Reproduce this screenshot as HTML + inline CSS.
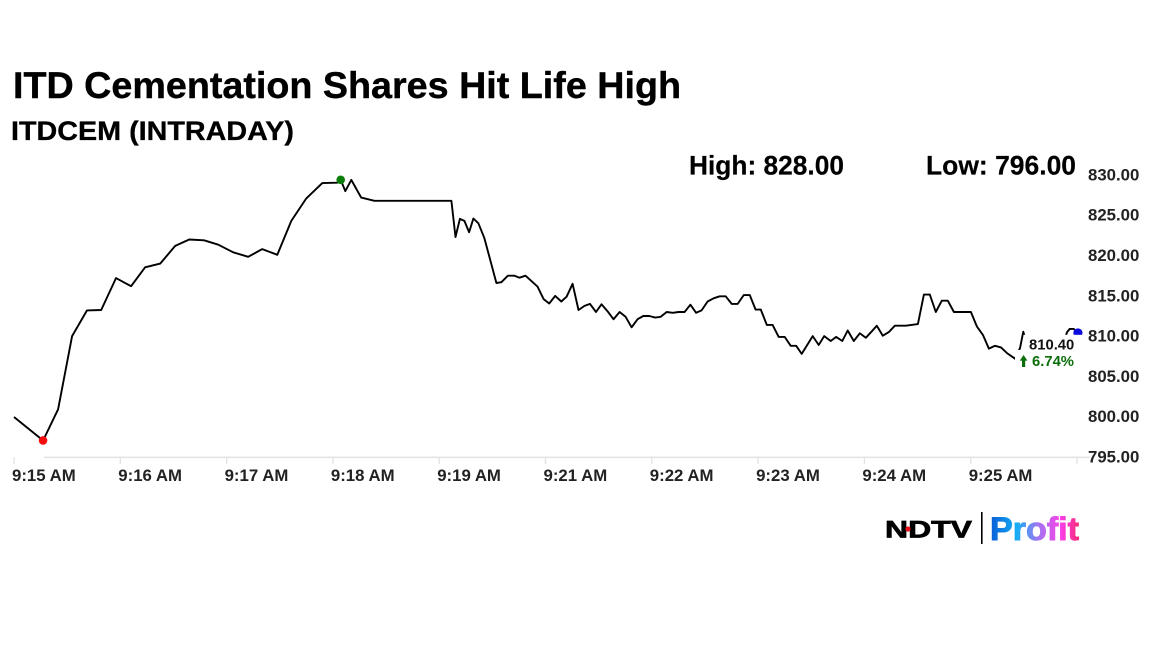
<!DOCTYPE html>
<html lang="en">
<head>
<meta charset="utf-8">
<title>ITD Cementation Shares Hit Life High</title>
<style>
html,body{margin:0;padding:0;background:#fff;width:1152px;height:648px;overflow:hidden}
svg{display:block}
text{font-family:"Liberation Sans",Arial,sans-serif;font-weight:700}
</style>
</head>
<body>
<svg id="chart" xmlns="http://www.w3.org/2000/svg" width="1152" height="648" viewBox="0 0 1152 648">
  <defs>
    <linearGradient id="profitGrad" gradientUnits="userSpaceOnUse" x1="990" y1="0" x2="1079" y2="0">
      <stop offset="0" stop-color="#0a5cd6"/>
      <stop offset="0.3" stop-color="#15aef5"/>
      <stop offset="0.55" stop-color="#a574f2"/>
      <stop offset="0.8" stop-color="#fb3fe6"/>
      <stop offset="1" stop-color="#f62a78"/>
    </linearGradient>
  </defs>
  <rect x="0" y="0" width="1152" height="648" fill="#fff"/>
  <text x="13" y="98" font-size="37" fill="#000" stroke="#000" stroke-width="0.4" textLength="668" lengthAdjust="spacingAndGlyphs">ITD Cementation Shares Hit Life High</text>
  <text x="11" y="140" font-size="27" fill="#000" stroke="#000" stroke-width="0.3" textLength="283" lengthAdjust="spacingAndGlyphs">ITDCEM (INTRADAY)</text>
  <text x="689" y="174.5" font-size="26.5" fill="#000" stroke="#000" stroke-width="0.2" textLength="155" lengthAdjust="spacingAndGlyphs">High: 828.00</text>
  <text x="926" y="174.5" font-size="26.5" fill="#000" stroke="#000" stroke-width="0.2" textLength="150" lengthAdjust="spacingAndGlyphs">Low: 796.00</text>
  <g id="plot"></g>
  <g>
    <text x="885" y="537.7" font-size="24" fill="#000" stroke="#000" stroke-width="0.7" textLength="87" lengthAdjust="spacingAndGlyphs">NDTV</text>
    <circle cx="908" cy="529" r="2.6" fill="#e8101c"/>
    <rect x="981" y="512" width="1.6" height="32" fill="#000"/>
    <text x="990" y="540" font-size="32" fill="url(#profitGrad)" stroke="url(#profitGrad)" stroke-width="0.9" textLength="89" lengthAdjust="spacingAndGlyphs">Profit</text>
  </g>
</svg>
<script>
const tickLabels = ["9:15 AM","9:16 AM","9:17 AM","9:18 AM","9:19 AM","9:21 AM","9:22 AM","9:23 AM","9:24 AM","9:25 AM",""];
const yTicks = [830,825,820,815,810,805,800,795];
const elapsedSeconds = [0,16.4,24.9,32.8,41.2,49.2,57.6,66.1,74.0,82.5,91.0,98.9,107.3,115.3,123.7,132.2,140.1,148.6,156.5,165.0,174.0,182.5,184.4,187.0,190.4,196.0,203.4,246.9,249.2,251.7,254.2,256.9,259.3,262.1,265.5,272.3,275.1,278.8,282.5,285.3,288.7,295.5,298.9,302.1,305.5,308.9,311.9,315.3,318.6,322.0,325.1,328.5,331.6,335.0,338.4,341.8,345.2,348.6,352.0,355.2,358.6,361.9,365.0,368.4,371.8,375.1,378.5,381.8,385.0,388.1,391.5,394.9,398.3,401.7,405.1,408.5,411.9,415.3,418.6,421.5,424.9,428.2,431.6,435.0,438.4,441.5,444.6,450.8,454.2,457.3,461.0,464.1,467.5,470.6,474.0,477.4,480.8,484.2,487.0,490.4,493.8,497.2,503.4,510.2,513.6,516.9,520.3,523.7,527.1,530.5,540.1,543.5,546.9,550.3,553.7,557.1,560.5,565.0,567.8,569.7,571.8,576.9,582.5,588.1,592.1,594.4,595.9,598.2,600.3];
const prices = [799.96,797.05,800.92,810.0,813.2,813.25,817.2,816.2,818.55,819.0,821.2,822.0,821.9,821.35,820.4,819.85,820.8,820.1,824.3,827.1,829.0,829.05,829.4,828.0,829.39,827.2,826.8,826.8,822.3,824.55,824.3,822.9,824.6,824.0,822.15,816.6,816.7,817.5,817.5,817.25,817.5,816.15,814.6,814.05,815.0,814.3,814.9,816.5,813.25,813.75,814.0,813.0,813.95,813.1,812.1,813.0,812.4,811.1,812.1,812.5,812.5,812.3,812.4,813.0,812.9,813.0,813.0,813.9,812.9,813.2,814.3,814.7,814.95,814.95,814.0,814.0,815.1,815.1,813.3,813.3,811.4,811.4,809.9,809.9,808.8,808.8,807.8,810.0,808.9,810.0,809.4,809.9,809.4,810.7,809.4,810.35,809.8,810.6,811.3,810.05,810.5,811.3,811.3,811.5,815.15,815.15,813.0,814.4,814.4,813.0,813.0,811.2,810.15,808.45,808.8,808.6,807.9,807.2,808.5,810.55,808.9,809.0,809.5,809.5,809.0,810.5,810.9,810.9,810.4];
const lastPriceLabel = "810.40";
const changeLabel = "6.74%";

const NS = "http://www.w3.org/2000/svg";
const plot = document.getElementById("plot");
const xScale = s => 14 + s * (106.3 / 60);
const yScale = v => 457 - (v - 795) * (282 / 35);

function make(tag, attrs, text) {
  const el = document.createElementNS(NS, tag);
  for (const k in attrs) el.setAttribute(k, attrs[k]);
  if (text !== undefined) el.textContent = text;
  plot.appendChild(el);
  return el;
}

/* price line */
const pts = elapsedSeconds.map((s, i) => xScale(s).toFixed(1) + "," + yScale(prices[i]).toFixed(1)).join(" ");
const line = make("polyline", {points: pts, fill: "none", stroke: "#000", "stroke-width": 1.9, "stroke-linejoin": "round"});



/* x axis */
const axisLine = make("line", {x1: 44, x2: 1090, y1: 457.4, y2: 457.4, stroke: "#e2e2e2", "stroke-width": 1.5});



tickLabels.forEach((label, i) => {
  const x = xScale(i * 60);
  const tick = make("line", {x1: x, x2: x, y1: 457, y2: 464, stroke: "#e2e2e2", "stroke-width": 1.3});
  
  
  if (label) {
    const t = make("text", {x: x - 2, y: 481, "font-size": 16.8, fill: "#222"}, label);
    
    
  }
});

/* y axis labels */
yTicks.forEach(v => {
  const t = make("text", {x: 1088, y: yScale(v) + 5.4, "font-size": 16.8, fill: "#222"}, v.toFixed(2));
  
  
});

/* high and low markers */
const maxVal = Math.max(...prices);
const minVal = Math.min(...prices);
const hi = prices.indexOf(maxVal);
const lo = prices.indexOf(minVal);
const highDot = make("circle", {cx: xScale(elapsedSeconds[hi]), cy: yScale(maxVal), r: 4.3, fill: "#0a7d0a"});


const lowDot = make("circle", {cx: xScale(elapsedSeconds[lo]), cy: yScale(minVal), r: 4.3, fill: "#f80c0c"});



/* last price marker */
const n = prices.length - 1;
const lastDot = make("circle", {cx: xScale(elapsedSeconds[n]) + 0.4, cy: yScale(prices[n]), r: 4.6, fill: "#0a0ae0"});



/* white label backings */
const box1 = make("rect", {x: 1023.5, y: 334.8, width: 60, height: 18, fill: "#fff"});


const box2 = make("rect", {x: 1015, y: 350, width: 68, height: 20, fill: "#fff"});



const priceText = make("text", {x: 1029, y: 349.5, "font-size": 14.8, fill: "#111"}, lastPriceLabel);


const arrow = make("path", {d: "M1023.6 355 L1027.4 360.6 L1025.2 360.6 L1025.2 367 L1022 367 L1022 360.6 L1019.8 360.6 Z", fill: "#0a6e0a"});


const changeText = make("text", {x: 1032, y: 366, "font-size": 14.8, fill: "#0a6e0a"}, changeLabel);


</script>
</body>
</html>
